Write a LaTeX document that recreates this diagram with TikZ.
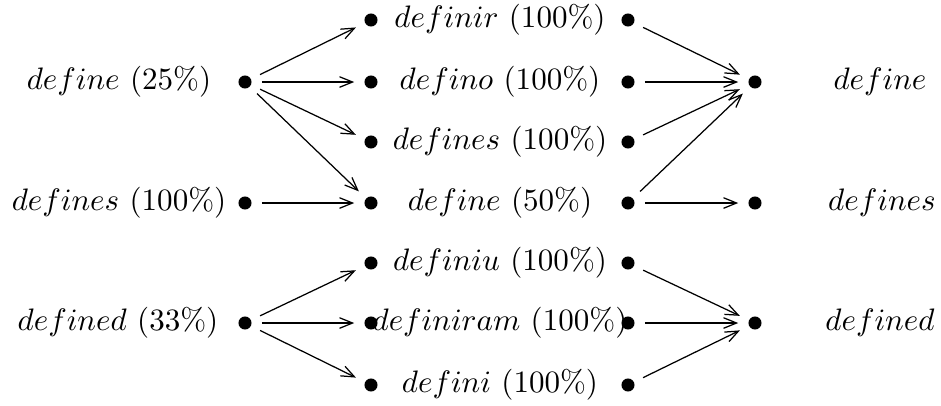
\documentclass[tikz,border=0pt]{standalone}
\usetikzlibrary{positioning}
\usetikzlibrary{arrows.meta}

\begin{document}
\begin{tikzpicture}[->, >={Straight Barb[length=4.2pt,width=3.4pt]}, x=0.322pt, y=-0.322pt,
	dot/.style={circle, minimum size=10.4pt, inner sep=0pt,
		path picture={\fill (path picture bounding box.center) circle (2.1pt);}}]
		\useasboundingbox (0,0) rectangle (941,405);
		% left column
		\node (l1) [dot] at (245,82) {};
		\node (l2) [dot] at (245,203) {};
		\node (l3) [dot] at (245,323) {};
		\node (tl1) at (119,82) {$define$ (25\%)};
		\node (tl2) at (119,203) {$defines$ (100\%)};
		\node (tl3) at (118,323) {$defined$ (33\%)};
		% middle column
		\node (m1l) [dot] at (371,20) {};
		\node (m2l) [dot] at (371,82) {};
		\node (m3l) [dot] at (371,142) {};
		\node (m4l) [dot] at (371,203) {};
		\node (m5l) [dot] at (371,263) {};
		\node (m6l) [dot] at (371,323) {};
		\node (m7l) [dot] at (371,385) {};
		\node (m1r) [dot] at (628,20) {};
		\node (m2r) [dot] at (628,82) {};
		\node (m3r) [dot] at (628,142) {};
		\node (m4r) [dot] at (628,203) {};
		\node (m5r) [dot] at (628,263) {};
		\node (m6r) [dot] at (628,323) {};
		\node (m7r) [dot] at (628,385) {};
		\node (tm1) at (500,20) {$definir$ (100\%)};
		\node (tm2) at (500,82) {$defino$ (100\%)};
		\node (tm3) at (500,142) {$defines$ (100\%)};
		\node (tm4) at (500,203) {$define$ (50\%)};
		\node (tm5) at (500,263) {$definiu$ (100\%)};
		\node (tm6) at (500,323) {$definiram$ (100\%)};
		\node (tm7) at (500,385) {$defini$ (100\%)};
		% right column
		\node (r1) [dot] at (755,82) {};
		\node (r2) [dot] at (755,203) {};
		\node (r3) [dot] at (755,323) {};
		\node (tr1) at (880,82) {$define$};
		\node (tr2) at (882,203) {$defines$};
		\node (tr3) at (880,323) {$defined$};
		\draw (l1) -> (m1l);
		\draw (l1) -> (m2l);
		\draw (l1) -> (m3l);
		\draw (l1) -> (m4l);
		\draw (l2) -> (m4l);
		\draw (l3) -> (m5l);
		\draw (l3) -> (m6l);
		\draw (l3) -> (m7l);
		\draw (m1r) -> (r1);
		\draw (m2r) -> (r1);
		\draw (m3r) -> (r1);
		\draw (m4r) -> (r1);
		\draw (m4r) -> (r2);
		\draw (m5r) -> (r3);
		\draw (m6r) -> (r3);
		\draw (m7r) -> (r3);
\end{tikzpicture}
\end{document}
